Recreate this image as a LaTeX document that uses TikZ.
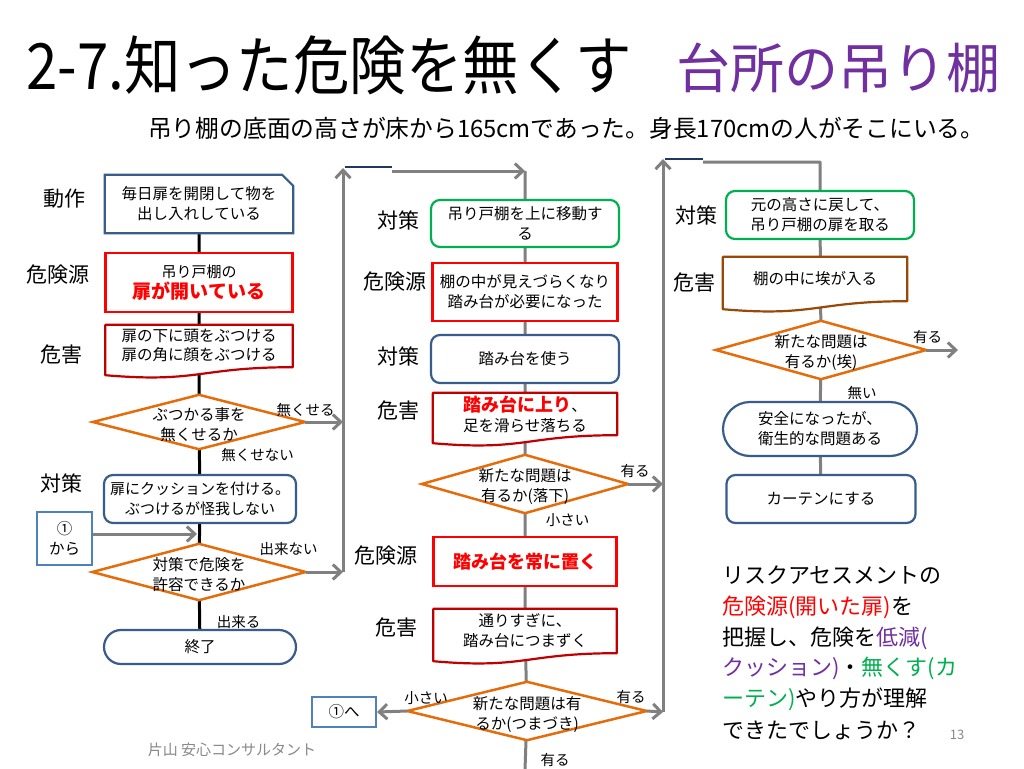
\documentclass[tikz,border=0pt]{standalone}
\usepackage{fontspec}
\setmainfont{Noto Sans CJK JP}
\usepackage{graphicx}
\usetikzlibrary{calc,arrows.meta}
\pgfdeclarelayer{paper}
\pgfdeclarelayer{bg}
\pgfdeclarelayer{shp}
\pgfsetlayers{paper,bg,shp,main}
\definecolor{bboxc}{RGB}{56,93,138}
\definecolor{lboxc}{RGB}{79,129,189}
\definecolor{redc}{RGB}{255,0,0}
\definecolor{dredc}{RGB}{192,0,0}
\definecolor{orc}{RGB}{228,108,10}
\definecolor{grc}{RGB}{0,176,80}
\definecolor{brc}{RGB}{152,72,7}
\definecolor{gryc}{RGB}{128,128,128}
\definecolor{navc}{RGB}{31,56,100}
\definecolor{purc}{RGB}{112,48,160}
\definecolor{footc}{RGB}{137,137,137}
\newcommand\docshape[2]{%
  \draw[draw=#2, line width=2.2pt, fill=white, line join=round]
    (#1.north west) -- (#1.north east) -- (#1.south east)
    .. controls (#1.south) and ($(#1.south)+(0,16)$) .. ($(#1.south west)+(0,8)$) -- cycle;}
\newcommand\diashape[1]{%
  \draw[draw=orc, line width=2.5pt, fill=white]
    (#1.north) -- (#1.east) -- (#1.south) -- (#1.west) -- cycle;}
\begin{document}
\begin{tikzpicture}[x=1pt,y=-1pt,
  bt/.style={font=\fontsize{15.5}{20}\selectfont, align=center, inner sep=0pt},
  plain/.style={bt},
  dtext/.style={bt, text depth=-3pt},
  rbx/.style={bt, draw=bboxc, line width=2.2pt, fill=white, rounded corners=9pt},
  gbx/.style={bt, draw=grc, line width=2.2pt, fill=white, rounded corners=9pt},
  redbox/.style={bt, draw=redc, line width=2.2pt, fill=white},
  lbox/.style={bt, draw=lboxc, line width=2pt, fill=white},
  stad/.style={bt, draw=bboxc, line width=2.2pt, fill=white},
  lab/.style={font=\fontsize{21}{24}\selectfont, inner sep=0pt},
  sm/.style={font=\fontsize{14.5}{17}\selectfont, inner sep=0pt},
  bcon/.style={draw=black, line width=3pt},
  gcon/.style={draw=gryc, line width=3pt},
  garr/.style={gcon, -{Straight Barb[length=8pt,width=15pt]}},
  navl/.style={draw=navc, line width=2.5pt},
  rt/.style={font=\fontsize{22}{26}\selectfont, inner sep=0pt, anchor=west}
]
\useasboundingbox (0,0) rectangle (1024,768);
\begin{pgfonlayer}{paper}
\fill[white] (0,0) rectangle (1024,768);
\end{pgfonlayer}

% titles
\node[inner sep=0pt, anchor=west] (title) at (26,65)
  {\scalebox{0.91}[1.03]{\fontsize{62}{62}\selectfont 2-7.知った危険を無くす}};
\node[inner sep=0pt, anchor=west, text=purc, font=\fontsize{54}{54}\selectfont] (title2) at (676,68) {台所の吊り棚};
\node[inner sep=0pt, anchor=west] (sub) at (148,128)
  {\scalebox{0.99}[1]{\fontsize{24}{24}\selectfont 吊り棚の底面の高さが床から165cmであった。身長170cmの人がそこにいる。}};

% ---------- left column ----------
\node[plain, minimum width=188, minimum height=58] (act) at (199,204) {毎日扉を開閉して物を\\出し入れしている};
\node[redbox, minimum width=187, minimum height=59] (src1) at (199,282.5)
  {{\fontsize{15}{18}\selectfont 吊り戸棚の}\\[1pt]{\fontsize{19}{22}\selectfont\bfseries\color{redc}扉が開いている}};
\node[plain, minimum width=187, minimum height=42, font=\fontsize{15.5}{19}\selectfont] (harm1) at (199,346) {扉の下に頭をぶつける\\扉の角に顔をぶつける};
\node[plain, minimum width=212, minimum height=54] (dec1) at (199,422) {};
\node[bt] (dec1t) at (199,425) {ぶつかる事を\\無くせるか};
\node[rbx, minimum width=192, minimum height=48, font=\fontsize{15}{20}\selectfont] (ctr1) at (200,499) {扉にクッションを付ける。\\ぶつけるが怪我しない};
\node[lbox, minimum width=55, minimum height=53] (from1) at (64.5,538.5) {①\\から};
\node[plain, minimum width=213, minimum height=56] (dec2) at (199,572) {};
\node[bt] (dec2t) at (199,575) {対策で危険を\\許容できるか};
\node[stad, rounded corners=17pt, minimum width=192, minimum height=34] (end) at (200,647) {終了};

\node[lab] (l1) at (64,199) {動作};
\node[lab] (l2) at (57.5,275) {危険源};
\node[lab] (l3) at (61,355) {危害};
\node[lab] (l4) at (61,483) {対策};

\node[sm] (t1) at (305.5,410) {無くせる};
\node[sm] (t2) at (257.5,455) {無くせない};
\node[sm] (t3) at (288.5,549) {出来ない};
\node[sm] (t4) at (238.5,622) {出来る};

% ---------- middle column ----------
\node[gbx, minimum width=188, minimum height=47] (mctrA) at (525,223.5) {吊り戸棚を上に移動す\\る};
\node[redbox, minimum width=185, minimum height=58] (msrcA) at (525,292) {棚の中が見えづらくなり\\踏み台が必要になった};
\node[rbx, minimum width=188, minimum height=48] (mctrB) at (525,359) {踏み台を使う};
\node[plain, minimum width=184, minimum height=42] (mharmA) at (525,414)
  {{\fontsize{18}{22}\selectfont\bfseries\color{redc}踏み台に上り}、\\足を滑らせ落ちる};
\node[plain, minimum width=206, minimum height=58] (mdecA) at (525,484) {};
\node[bt] (mdecAt) at (525,487) {新たな問題は\\有るか(落下)};
\node[redbox, minimum width=183, minimum height=49] (msrcB) at (525,561.5)
  {{\fontsize{18}{22}\selectfont\bfseries\color{redc}踏み台を常に置く}};
\node[plain, minimum width=183, minimum height=44] (mharmB) at (525,631) {通りすぎに、\\踏み台につまずく};
\node[plain, minimum width=239, minimum height=58] (mdecB) at (527,711) {};
\node[bt] (mdecBt) at (527,714) {新たな問題は有\\るか(つまづき)};
\node[lbox, minimum width=64, minimum height=30] (to1) at (344,712) {①へ};

\node[lab] (m1) at (398.5,220) {対策};
\node[lab] (m2) at (394.5,282) {危険源};
\node[lab] (m3) at (398.5,356) {対策};
\node[lab] (m4) at (398,411) {危害};
\node[lab] (m5) at (385.5,556) {危険源};
\node[lab] (m6) at (396.5,628) {危害};

\node[sm] (t5) at (635,471) {有る};
\node[sm] (t6) at (567.5,520) {小さい};
\node[sm] (t7) at (426,698) {小さい};
\node[sm] (t8) at (631,697) {有る};
\node[sm] (t9) at (555,760) {有る};

% ---------- right column ----------
\node[gbx, minimum width=188, minimum height=48] (rctr) at (820,215) {元の高さに戻して、\\吊り戸棚の扉を取る};
\node[plain, minimum width=184, minimum height=44] (rharm) at (815,279) {棚の中に埃が入る};
\node[plain, minimum width=210, minimum height=58] (rdec) at (821,350) {};
\node[bt] (rdect) at (821,353) {新たな問題は\\有るか(埃)};
\node[stad, rounded corners=27pt, minimum width=194, minimum height=54] (rsafe) at (820,429) {安全になったが、\\衛生的な問題ある};
\node[rbx, minimum width=189, minimum height=48] (rcur) at (821,499) {カーテンにする};

\node[lab] (r1) at (696,215) {対策};
\node[lab] (r2) at (694,283) {危害};
\node[sm] (t10) at (927.5,337) {有る};
\node[sm] (t11) at (862,393) {無い};

% ---------- bottom right text ----------
\node[rt] (b1) at (722,575) {リスクアセスメントの};
\node[rt] (b2) at (722,607) {{\color{redc}危険源(開いた扉)}を};
\node[rt] (b3) at (722,638) {把握し、危険を{\color{purc}低減(}};
\node[rt] (b4) at (722,668) {{\color{purc}クッション)}・{\color{grc}無くす(カ}};
\node[rt] (b5) at (722,699) {{\color{grc}ーテン)}やり方が理解};
\node[rt] (b6) at (722,730) {できたでしょうか？};
\node[inner sep=0pt, text=footc, font=\fontsize{13}{13}\selectfont] (pg) at (957,735) {13};
\node[inner sep=0pt, text=footc, font=\fontsize{15}{15}\selectfont] (foot) at (232,750) {片山 安心コンサルタント};

% ---------- shapes ----------
\begin{pgfonlayer}{shp}
  \draw[draw=bboxc, line width=2.2pt, fill=white]
    (act.north west) -- ($(act.north east)+(-11,0)$) -- ($(act.north east)+(0,11)$)
    -- (act.south east) -- (act.south west) -- cycle;
  \docshape{harm1}{dredc}
  \docshape{mharmA}{dredc}
  \docshape{mharmB}{dredc}
  \docshape{rharm}{brc}
  \diashape{dec1}
  \diashape{dec2}
  \diashape{mdecA}
  \diashape{mdecB}
  \diashape{rdec}
\end{pgfonlayer}

% ---------- connectors ----------
\coordinate (j1) at (197,534);
\coordinate (v1a) at (343,572);
\coordinate (v1b) at (343,422);
\coordinate (v1t) at (343,168);
\coordinate (n1a) at (345,167);
\coordinate (n1b) at (392,167);
\coordinate (h1a) at (392,171);
\coordinate (h1b) at (525,171);
\coordinate (mbot) at (525,770);
\coordinate (v2a) at (663,712);
\coordinate (v2b) at (663,484);
\coordinate (v2t) at (663,159);
\coordinate (n2a) at (665,159);
\coordinate (n2b) at (703,159);
\coordinate (h2a) at (703,162);
\coordinate (h2b) at (820,162);
\coordinate (rend) at (958,350);

\begin{pgfonlayer}{bg}
  \draw[bcon] (act) -- (src1) -- (harm1) -- (dec1) -- (ctr1) -- (dec2) -- (end);
  \draw[gcon] (h1b) -- (mctrA) -- (msrcA) -- (mctrB) -- (mharmA) -- (mdecA) -- (msrcB) -- (mharmB) -- (mdecB.center) -- (mbot);
  \draw[gcon, line join=round] (h2a) -- (h2b) -- (rctr) -- (rdec) -- (rsafe) -- (rcur);
\end{pgfonlayer}

\draw[garr] (from1.east |- j1) -- (j1);
\draw[garr] (dec1.east) -- (v1b);
\draw[garr] (dec2.east) -- (v1a);
\draw[garr] (v1a) -- (v1t);
\draw[navl] (n1a) -- (n1b);
\draw[garr] (h1a) -- (h1b);

\draw[garr] (mdecA.east) -- (v2b);
\draw[garr] (mdecB.east) -- (v2a);
\draw[garr] (mdecB.west) -- (to1.east);
\draw[garr] (v2a) -- (v2t);
\draw[navl] (n2a) -- (n2b);

\draw[garr] (rdec.east) -- (rend);
\end{tikzpicture}
\end{document}
